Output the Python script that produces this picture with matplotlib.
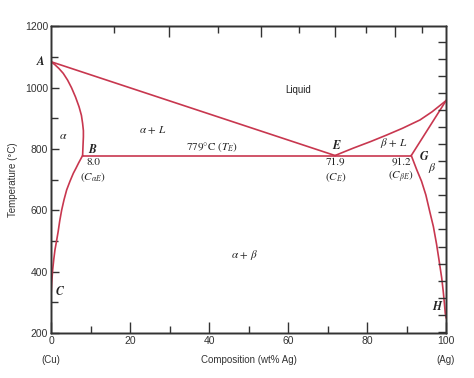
import numpy as np
import matplotlib
matplotlib.use('Agg')
import matplotlib.pyplot as plt

# Cu-Ag phase diagram
liq_left_x = [0.0, 71.9]
liq_left_t = [1085, 779]

liq_right_x = [71.9, 76.5, 81.0, 85.0, 89.0, 93.4, 96.5, 100.0]
liq_right_t = [779, 803, 825, 846, 868, 895, 922, 958]

sol_left_x = [0.0, 1.0, 2.0, 3.1, 4.2, 5.2, 6.2, 7.1, 7.7, 8.0, 8.2, 8.2, 8.1, 8.0]
sol_left_t = [1085, 1075, 1063, 1047, 1025, 1000, 970, 938, 910, 884, 860, 840, 810, 779]

solvus_left_x = [8.0, 7.0, 6.3, 5.65, 4.8, 3.97, 3.3, 2.7, 2.2, 1.8, 1.4, 1.0, 0.7, 0.42, 0.17, 0.0]
solvus_left_t = [779, 755, 737, 721, 695, 667, 635, 601, 565, 530, 500, 471, 440, 406, 363, 320]

sol_right_x = [91.2, 100.0]
sol_right_t = [779, 958]

solvus_right_x = [91.2, 92.6, 93.8, 94.9, 95.9, 96.8, 97.6, 98.2, 98.9, 99.3, 99.6, 99.8, 100.0]
solvus_right_t = [779, 732, 695, 650, 595, 547, 490, 440, 380, 335, 295, 265, 250]

eutectic_x = [8.0, 91.2]
eutectic_t = [779, 779]

# top ticks (at% Ag positions expressed in wt%), right ticks (deg F in deg C)
top_major = [29.8, 53.1, 71.8, 87.1]
top_minor = [15.9, 42.2, 62.9, 79.7, 93.8]
right_ticks_f = [400, 500, 600, 700, 800, 900, 1000, 1100, 1200, 1300, 1400,
                 1500, 1600, 1700, 1800, 1900, 2000, 2100]

plt.rcParams['font.family'] = ['Liberation Sans', 'DejaVu Sans']
plt.rcParams['mathtext.fontset'] = 'stix'

red = '#c8374f'
ink = '#333333'

fig = plt.figure(figsize=(4.74, 3.78), dpi=100)
ax = fig.add_axes([0.1076, 0.119, 0.8334, 0.811])

for xs, ts in [(liq_left_x, liq_left_t), (liq_right_x, liq_right_t),
               (sol_left_x, sol_left_t), (solvus_left_x, solvus_left_t),
               (sol_right_x, sol_right_t), (solvus_right_x, solvus_right_t),
               (eutectic_x, eutectic_t)]:
    ax.plot(xs, ts, color=red, lw=1.2, solid_joinstyle='round', zorder=3)

ax.set_xlim(0, 100)
ax.set_ylim(200, 1200)
ax.set_xticks([0, 20, 40, 60, 80, 100])
ax.set_xticks([10, 30, 50, 70, 90], minor=True)
ax.set_yticks([200, 400, 600, 800, 1000, 1200])
ax.set_yticks([300, 500, 700, 900, 1100], minor=True)
ax.tick_params(axis='x', which='major', direction='in', length=8, width=1,
               color=ink, labelsize=7.5, pad=2, labelcolor=ink)
ax.tick_params(axis='x', which='minor', direction='in', length=5, width=1, color=ink)
ax.tick_params(axis='y', which='major', direction='in', length=6, width=1,
               color=ink, labelsize=7.5, pad=2, labelcolor=ink)
ax.tick_params(axis='y', which='minor', direction='in', length=5, width=1, color=ink)
for sp in ax.spines.values():
    sp.set_color(ink)
    sp.set_linewidth(1.0)

# top axis ticks
axt = ax.twiny()
axt.set_xlim(0, 100)
axt.set_xticks(top_major)
axt.set_xticks(top_minor, minor=True)
axt.tick_params(axis='x', which='major', direction='in', length=8, width=1,
                color=ink, labeltop=False)
axt.tick_params(axis='x', which='minor', direction='in', length=5, width=1, color=ink)

# right axis ticks (deg F)
axr = ax.twinx()
axr.set_ylim(200, 1200)
axr.set_yticks([(f - 32) * 5 / 9 for f in right_ticks_f])
axr.tick_params(axis='y', direction='in', length=6, width=1, color=ink, labelright=False)
for a in (axt, axr):
    for sp in a.spines.values():
        sp.set_color(ink)
        sp.set_linewidth(1.0)

ax.set_ylabel('Temperature (°C)', fontsize=7, color=ink, labelpad=5)
fig.text(249 / 474, 1 - 360 / 378, 'Composition (wt% Ag)', fontsize=7, color=ink,
         ha='center', va='center')
fig.text(51 / 474, 1 - 360 / 378, '(Cu)', fontsize=7, color=ink, ha='center', va='center')
fig.text(446 / 474, 1 - 360 / 378, '(Ag)', fontsize=7, color=ink, ha='center', va='center')

serif = dict(family=['STIXGeneral', 'DejaVu Serif'], color='#222222')
letter = dict(family=['STIXGeneral', 'DejaVu Serif'], color='#222222',
              style='italic', weight='bold', fontsize=8.5)
ax.text(62.5, 993, 'Liquid', fontsize=7, color='#222222', ha='center', va='center')
ax.text(25.8, 862, r'$\alpha$ + $L$', fontsize=8, ha='center', va='center', **serif)
ax.text(3.0, 843, r'$\alpha$', fontsize=8.5, ha='center', va='center', **serif)
ax.text(10.4, 798, 'B', ha='center', va='center', **letter)
ax.text(-1.6, 1086, 'A', ha='right', va='center', clip_on=False, **letter)
ax.text(2.2, 334, 'C', ha='center', va='center', **letter)
ax.text(97.6, 285, 'H', ha='center', va='center', **letter)
ax.text(72.2, 811, 'E', ha='center', va='center', **letter)
ax.text(94.4, 776, 'G', ha='center', va='center', **letter)
ax.text(96.6, 738, r'$\beta$', fontsize=8.5, ha='center', va='center', **serif)
ax.text(86.8, 820, r'$\beta$ + $L$', fontsize=8, ha='center', va='center', **serif)
ax.text(49.1, 455, r'$\alpha$ + $\beta$', fontsize=8, ha='center', va='center', **serif)
ax.text(40.8, 808, r'779°C ($T_E$)', fontsize=8, ha='center', va='center', **serif)

ax.text(10.6, 757, '8.0', fontsize=8, ha='center', va='center', **serif)
ax.text(10.6, 710, r'($C_{\alpha E}$)', fontsize=8, ha='center', va='center', **serif)
ax.text(72.0, 759, '71.9', fontsize=8, ha='center', va='center', **serif)
ax.text(72.0, 710, r'($C_E$)', fontsize=8, ha='center', va='center', **serif)
ax.text(88.6, 759, '91.2', fontsize=8, ha='center', va='center', **serif)
ax.text(88.6, 710, r'($C_{\beta E}$)', fontsize=8, ha='center', va='center', **serif)

fig.savefig('out.png', dpi=100)
